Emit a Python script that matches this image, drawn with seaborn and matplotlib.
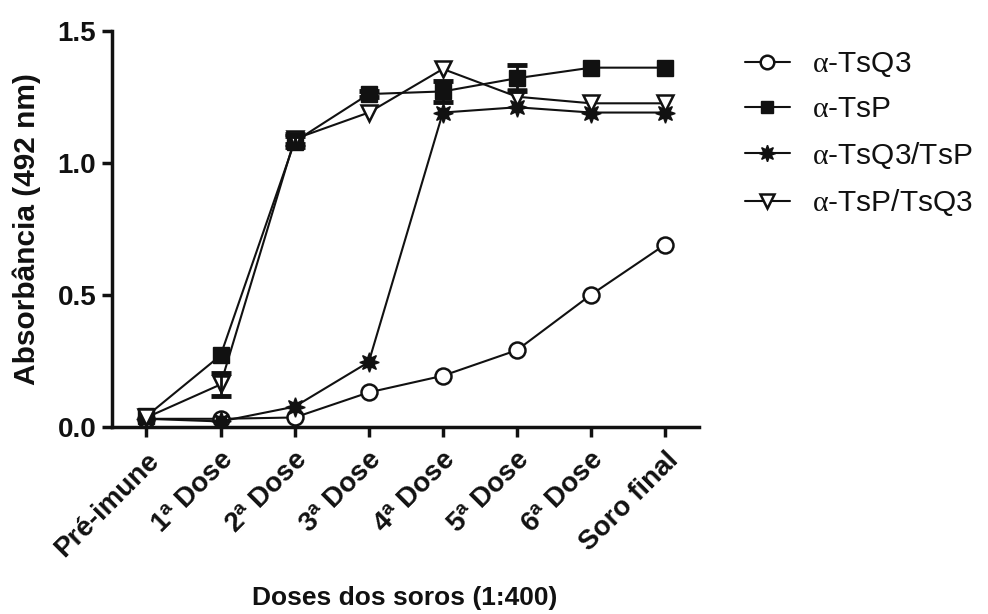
import matplotlib
matplotlib.use("Agg")
import matplotlib.pyplot as plt
import seaborn as sns
import numpy as np
import pandas as pd
from matplotlib.lines import Line2D

# Serum doses (1:400 dilution) and mean absorbance at 492 nm
doses = ["Pré-imune", "1$^{\\mathbf{a}}$ Dose", "2$^{\\mathbf{a}}$ Dose",
         "3$^{\\mathbf{a}}$ Dose", "4$^{\\mathbf{a}}$ Dose",
         "5$^{\\mathbf{a}}$ Dose", "6$^{\\mathbf{a}}$ Dose", "Soro final"]

tsq3 = [0.03, 0.03, 0.035, 0.13, 0.193, 0.29, 0.50, 0.69]
tsp = [0.04, 0.27, 1.08, 1.26, 1.27, 1.32, 1.36, 1.36]
tsq3_tsp = [0.03, 0.02, 0.076, 0.245, 1.19, 1.21, 1.19, 1.19]
tsp_tsq3 = [0.035, 0.16, 1.09, 1.19, 1.355, 1.25, 1.225, 1.225]

# Standard errors
tsq3_err = [0.0, 0.0, 0.0, 0.0, 0.0, 0.0, 0.0, 0.0]
tsp_err = [0.0, 0.0, 0.02, 0.01, 0.04, 0.05, 0.0, 0.0]
tsq3_tsp_err = [0.0, 0.0, 0.0, 0.0, 0.0, 0.0, 0.0, 0.0]
tsp_tsq3_err = [0.0, 0.045, 0.02, 0.0, 0.0, 0.0, 0.0, 0.0]

series_names = ["α-TsQ3", "α-TsP", "α-TsQ3/TsP", "α-TsP/TsQ3"]
legend_labels = ["$\\alpha$-TsQ3", "$\\alpha$-TsP", "$\\alpha$-TsQ3/TsP",
                 "$\\alpha$-TsP/TsQ3"]

sns.set_theme(style="ticks")
plt.rcParams["font.family"] = ["Liberation Sans", "DejaVu Sans"]
plt.rcParams["mathtext.fontset"] = "custom"
plt.rcParams["mathtext.bf"] = "Liberation Sans:bold"
plt.rcParams["mathtext.rm"] = "Liberation Sans"
plt.rcParams["mathtext.it"] = "Liberation Serif"

fig = plt.figure(figsize=(9.88, 6.14), dpi=100)
ax = fig.add_axes([0.113, 0.305, 0.594, 0.645])

x = np.arange(len(doses))
styles = {
    "α-TsQ3": dict(marker="o", mfc="white", ms=11.5, mew=1.8),
    "α-TsP": dict(marker="s", mfc="#111111", ms=11.0, mew=1.0),
    "α-TsQ3/TsP": dict(marker=(8, 1, 0), mfc="#111111", ms=14, mew=1.0),
    "α-TsP/TsQ3": dict(marker="v", mfc="white", ms=11.5, mew=1.8),
}
values = [tsq3, tsp, tsq3_tsp, tsp_tsq3]
errors = [tsq3_err, tsp_err, tsq3_tsp_err, tsp_tsq3_err]

df = pd.DataFrame({
    "dose": np.tile(x, 4),
    "abs": np.concatenate(values),
    "serie": np.repeat(series_names, len(doses)),
})

for name, vals, errs in zip(series_names, values, errors):
    st = styles[name]
    sub = df[df["serie"] == name]
    sns.lineplot(data=sub, x="dose", y="abs", ax=ax, color="#111111",
                 linewidth=1.5, marker=st["marker"], markersize=st["ms"],
                 markerfacecolor=st["mfc"], markeredgecolor="#111111",
                 markeredgewidth=st["mew"], clip_on=False, zorder=3,
                 legend=False)
    errs = np.array(errs)
    mask = errs > 0
    if mask.any():
        ax.errorbar(x[mask], np.array(vals)[mask], yerr=errs[mask], fmt="none",
                    ecolor="#111111", elinewidth=2, capsize=7, capthick=3.5,
                    zorder=4, clip_on=False)

ax.set_xlim(-0.47, 7.45)
ax.set_ylim(0, 1.5)
ax.set_yticks([0, 0.5, 1.0, 1.5])
ax.set_yticklabels(["0.0", "0.5", "1.0", "1.5"])
ax.set_xticks(x)
ax.set_xticklabels(doses, rotation=45, ha="right", rotation_mode="anchor")

for lab in ax.get_xticklabels() + ax.get_yticklabels():
    lab.set_fontweight("bold")
    lab.set_fontsize(20)
    lab.set_color("#111111")

ax.set_xlabel("Doses dos soros (1:400)", fontsize=19, fontweight="bold",
              color="#111111", labelpad=17)
ax.set_ylabel("Absorbância (492 nm)", fontsize=21.5, fontweight="bold",
              color="#111111", labelpad=12)

sns.despine(ax=ax)
for sp in ["left", "bottom"]:
    ax.spines[sp].set_linewidth(2.5)
    ax.spines[sp].set_color("#111111")
ax.tick_params(axis="y", width=2.5, length=7, color="#111111", pad=4)
ax.tick_params(axis="x", width=2.5, length=7, color="#111111", pad=8)

handles = []
for name in series_names:
    st = styles[name]
    handles.append(Line2D([0], [0], color="#111111", linewidth=1.5,
                          marker=st["marker"], markersize=st["ms"] * 0.85,
                          markerfacecolor=st["mfc"], markeredgecolor="#111111",
                          markeredgewidth=st["mew"]))
leg = fig.legend(handles, legend_labels, loc="upper left",
                 bbox_to_anchor=(745 / 988, 1 - 50 / 614),
                 bbox_transform=fig.transFigure, frameon=False, fontsize=21.5,
                 borderpad=0, borderaxespad=0,
                 handlelength=1.5, handletextpad=0.75, labelspacing=0.55)
for t in leg.get_texts():
    t.set_color("#111111")

fig.savefig("out.png", dpi=100)
